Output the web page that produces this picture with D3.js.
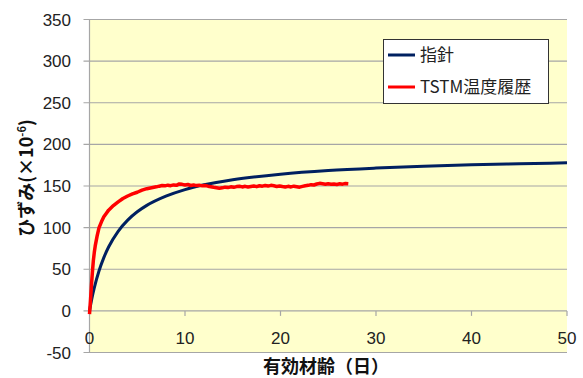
<!DOCTYPE html>
<html>
<head>
<meta charset="utf-8">
<script src="https://cdn.jsdelivr.net/npm/d3@7"></script>
<style>
  body { margin: 0; background: #fff; }
  svg { display: block; }
  text { font-family: "Liberation Sans", Arial, "Noto Sans CJK JP", sans-serif; fill: #222; }
  .ttl { font-family: "Noto Sans CJK JP", sans-serif; font-weight: bold; fill: #111; }
</style>
</head>
<body>
<svg></svg>
<script>
var width = 583,
    height = 378

var xTicks = [0, 10, 20, 30, 40, 50],
    yTicks = [-50, 0, 50, 100, 150, 200, 250, 300, 350]

// 指針 (prediction curve)
var guideT = [0, 0.25, 0.5, 1, 1.5, 2, 3, 4, 5, 6, 8, 10, 12, 15, 20, 25, 30, 35, 40, 45, 50]
var guideV = [0, 15, 27.6, 48.2, 64, 76.7, 95.6, 109, 119, 126.7, 137.8, 145.7, 151.4, 157.5, 164.2, 168.6, 171.5, 173.7, 175.4, 176.7, 177.8]

// TSTM温度履歴 (measured)
var tstmT = [0, 0.1, 0.2, 0.3, 0.4, 0.5, 0.6, 0.8, 1.0, 1.25, 1.5, 1.75, 2.0, 2.5, 3.0, 3.5, 4.0, 4.5, 5.0, 5.5, 6.0, 6.5,
    7.0, 7.3, 7.6, 7.9, 8.2, 8.5, 8.8, 9.1, 9.4, 9.7, 10.0, 10.3, 10.6, 10.9, 11.2, 11.5, 11.8, 12.1, 12.4, 12.7,
    13.0, 13.3, 13.6, 13.9, 14.2, 14.5, 14.8, 15.1, 15.4, 15.7, 16.0, 16.3, 16.6, 16.9, 17.2, 17.5, 17.8, 18.1,
    18.4, 18.7, 19.0, 19.3, 19.6, 19.9, 20.2, 20.5, 20.8, 21.1, 21.4, 21.7, 22.0, 22.3, 22.6, 22.9, 23.2, 23.5,
    23.8, 24.1, 24.4, 24.7, 25.0, 25.3, 25.6, 25.9, 26.2, 26.5, 26.8, 27.1]
var tstmV = [-4, 12, 30, 46, 60, 70, 78, 90, 100, 107, 113, 117, 121, 126.5, 131, 135, 138, 140.5, 142.5, 145, 146.8, 148,
    149.0, 149.8, 150.5, 150.2, 151.0, 150.4, 151.3, 150.8, 152.5, 152.0, 151.2, 151.8, 150.6, 151.3, 150.5, 151.0, 150.2, 150.6, 149.8, 149.2,
    148.5, 148.0, 147.4, 147.8, 148.6, 148.1, 149.0, 148.4, 149.3, 149.7, 148.9, 149.6, 148.8, 149.4, 150.0, 149.2, 150.3, 149.8,
    150.6, 149.9, 150.8, 150.2, 149.5, 150.1, 149.4, 148.8, 149.6, 148.9, 149.8, 149.2, 148.6, 149.5, 150.3, 150.8, 151.6, 151.2,
    152.4, 153.2, 152.6, 152.0, 152.7, 152.1, 152.5, 151.9, 152.6, 152.2, 153.0, 152.7]

var seriesNames = ["指針", "TSTM温度履歴"],
    colors = ["#002060", "#ff0000"]

var svg = d3.select("svg").attr("width", width).attr("height", height)

var x = d3.scaleLinear().domain([0, 50]).range([89.5, 567])
var y = d3.scaleLinear().domain([-50, 350]).range([352.5, 19.5])

svg.append("rect")
    .attr("x", x(0)).attr("y", y(350))
    .attr("width", x(50) - x(0)).attr("height", y(-50) - y(350))
    .style("fill", "#ffffcc")

// gridlines + outward ticks on y
svg.append("g").selectAll("line")
    .data(yTicks)
    .enter()
    .append("line")
    .attr("x1", x(0) - 6).attr("x2", x(50))
    .attr("y1", function(d) { return y(d) }).attr("y2", function(d) { return y(d) })
    .style("stroke", "#a6a6a6").style("stroke-width", 1.2)

svg.append("line")
    .attr("x1", x(0)).attr("x2", x(0)).attr("y1", y(350)).attr("y2", y(-50))
    .style("stroke", "#a6a6a6").style("stroke-width", 1.2)

// x ticks on zero line
svg.append("g").selectAll("line")
    .data(xTicks.slice(1))
    .enter()
    .append("line")
    .attr("x1", function(d) { return x(d) }).attr("x2", function(d) { return x(d) })
    .attr("y1", y(0)).attr("y2", y(0) + 5)
    .style("stroke", "#a6a6a6").style("stroke-width", 1.2)

svg.append("g").selectAll("text")
    .data(yTicks)
    .enter()
    .append("text")
    .attr("x", 71).attr("y", function(d) { return y(d) + 6 })
    .attr("text-anchor", "end")
    .style("font-size", "17px")
    .text(function(d) { return d })

svg.append("g").selectAll("text")
    .data(xTicks)
    .enter()
    .append("text")
    .attr("x", function(d) { return x(d) }).attr("y", 344)
    .attr("text-anchor", "middle")
    .style("font-size", "17px")
    .text(function(d) { return d })

var line = d3.line()
    .x(function(d) { return x(d[0]) })
    .y(function(d) { return y(d[1]) })
    .curve(d3.curveMonotoneX)

svg.append("path")
    .datum(d3.zip(guideT, guideV))
    .attr("d", line)
    .style("fill", "none").style("stroke", colors[0]).style("stroke-width", 3)

svg.append("path")
    .datum(d3.zip(tstmT, tstmV))
    .attr("d", d3.line().x(function(d) { return x(d[0]) }).y(function(d) { return y(d[1]) }))
    .style("fill", "none").style("stroke", colors[1]).style("stroke-width", 3.5)
    .style("stroke-linejoin", "round")

// legend
var legend = svg.append("g").attr("transform", "translate(383,39)")
legend.append("rect")
    .attr("x", 0.5).attr("y", 0.5).attr("width", 165).attr("height", 64)
    .style("fill", "#fff").style("stroke", "#333").style("stroke-width", 1)

seriesNames.forEach(function(name, i) {
    var ly = 16 + i * 32
    legend.append("line")
        .attr("x1", 5).attr("x2", 32).attr("y1", ly).attr("y2", ly)
        .style("stroke", colors[i]).style("stroke-width", 3)
    legend.append("text")
        .attr("x", 37).attr("y", ly + 6)
        .style("font-size", "17px")
        .style("font-family", "'Noto Sans CJK JP', sans-serif")
        .text(name)
})

svg.append("text")
    .attr("class", "ttl")
    .attr("x", 326).attr("y", 373)
    .attr("text-anchor", "middle")
    .style("font-size", "18px")
    .text("有効材齢（日）")

var yt = svg.append("text")
    .attr("class", "ttl")
    .attr("transform", "translate(33,178) rotate(-90)")
    .attr("text-anchor", "middle")
    .style("font-size", "18px")
yt.append("tspan").text("ひずみ(×10")
yt.append("tspan").attr("dy", -7).style("font-size", "11px").text("-6")
yt.append("tspan").attr("dy", 7).text(")")
</script>
</body>
</html>
